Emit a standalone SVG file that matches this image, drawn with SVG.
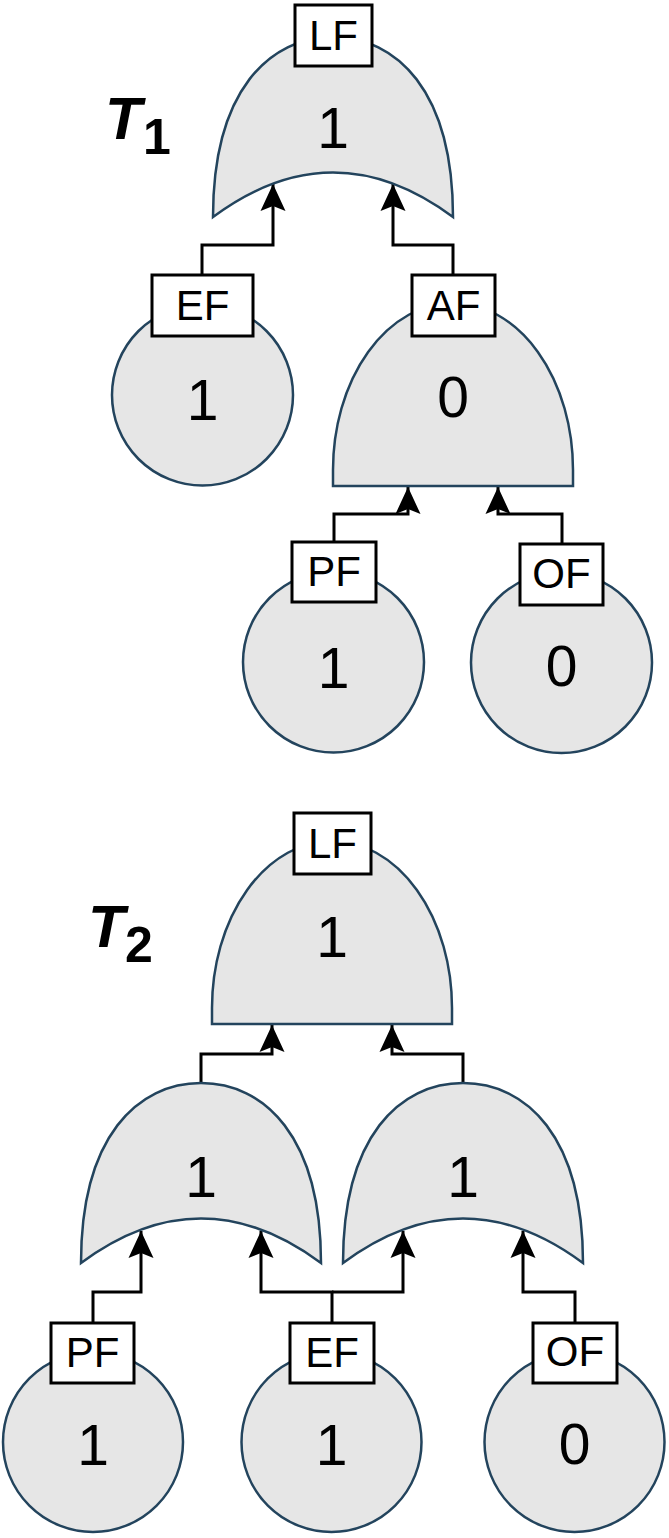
<svg xmlns="http://www.w3.org/2000/svg" width="669" height="1538" viewBox="0 0 669 1538">
<style>
.gate{fill:#e6e6e6;stroke:#23445d;stroke-width:2.5}
.lbl{fill:#fff;stroke:#000;stroke-width:3}
.lt{font-family:"Liberation Sans",Arial,sans-serif;font-size:42px;text-anchor:middle;fill:#000}
.num{font-family:"Liberation Sans",Arial,sans-serif;font-size:57px;text-anchor:middle;fill:#000}
.tt{font-family:"Liberation Sans",Arial,sans-serif;font-weight:bold;fill:#000}
.conn{fill:none;stroke:#000;stroke-width:3;marker-end:url(#arr)}
</style>
<defs>
<marker id="arr" viewBox="-29 -14 30 28" markerWidth="30" markerHeight="28" refX="0" refY="0" orient="auto" markerUnits="userSpaceOnUse">
<path d="M0,0 L-27,-12.5 L-22,0 L-27,12.5 Z" fill="#000"/>
</marker>
<path id="orShape" d="M213,217 C213,90 270,37 333,37 C396,37 453,90 453,217 Q333,128 213,217 Z"/>
<path id="andShape" d="M333,486 L333,470 A120,167 0 0 1 573,470 L573,486 Z"/>
</defs>
<rect width="669" height="1538" fill="#fff"/>

<g id="title-t1">
<text class="tt" x="105" y="139" font-size="60" font-style="italic">T</text>
<text class="tt" x="143" y="154" font-size="50">1</text>
</g>
<g id="title-t2">
<text class="tt" x="88" y="947" font-size="60" font-style="italic">T</text>
<text class="tt" x="125" y="962" font-size="50">2</text>
</g>

<g id="connectors">
<path class="conn" d="M202,275 V245 H273 V184"/>
<path class="conn" d="M453,275 V245 H393 V184"/>
<path class="conn" d="M334,542 V514 H408 V487"/>
<path class="conn" d="M562,544 V514 H498 V487"/>
<path class="conn" d="M201,1083 V1054 H272 V1025"/>
<path class="conn" d="M463,1083 V1054 H392 V1025"/>
<path class="conn" d="M93,1323 V1292 H141 V1231"/>
<path class="conn" d="M332,1323 V1292 H261 V1231"/>
<path class="conn" d="M332,1292 H403 V1231"/>
<path class="conn" d="M575,1323 V1292 H523 V1231"/>
</g>

<g id="t1-lf">
<use href="#orShape" class="gate"/>
<text class="num" x="333" y="148">1</text>
<rect class="lbl" x="295" y="5" width="77" height="61"/>
<text class="lt" x="333.5" y="50">LF</text>
</g>
<g id="t1-ef">
<circle class="gate" cx="202.5" cy="395" r="90.5"/>
<text class="num" x="202.5" y="420">1</text>
<rect class="lbl" x="152" y="275" width="101" height="61"/>
<text class="lt" x="202.5" y="320">EF</text>
</g>
<g id="t1-af">
<use href="#andShape" class="gate"/>
<text class="num" x="453" y="417">0</text>
<rect class="lbl" x="412" y="275" width="83" height="61"/>
<text class="lt" x="453.5" y="320">AF</text>
</g>
<g id="t1-pf">
<circle class="gate" cx="333.5" cy="662" r="90.5"/>
<text class="num" x="333.5" y="688">1</text>
<rect class="lbl" x="292" y="542" width="84" height="60"/>
<text class="lt" x="334" y="586">PF</text>
</g>
<g id="t1-of">
<circle class="gate" cx="561.5" cy="662.5" r="90.5"/>
<text class="num" x="561.5" y="686">0</text>
<rect class="lbl" x="520" y="544" width="83" height="61"/>
<text class="lt" x="561.5" y="588">OF</text>
</g>

<g id="t2-lf">
<use href="#andShape" class="gate" transform="translate(-121,538)"/>
<text class="num" x="332" y="957">1</text>
<rect class="lbl" x="294" y="813" width="77" height="61"/>
<text class="lt" x="332.5" y="858">LF</text>
</g>
<g id="t2-or1">
<use href="#orShape" class="gate" transform="translate(-132,1046)"/>
<text class="num" x="201" y="1197">1</text>
</g>
<g id="t2-or2">
<use href="#orShape" class="gate" transform="translate(130,1046)"/>
<text class="num" x="463" y="1197">1</text>
</g>
<g id="t2-pf">
<circle class="gate" cx="93" cy="1442" r="90"/>
<text class="num" x="93" y="1465">1</text>
<rect class="lbl" x="51" y="1323" width="83" height="60"/>
<text class="lt" x="92.5" y="1367">PF</text>
</g>
<g id="t2-ef">
<circle class="gate" cx="331.5" cy="1442" r="90"/>
<text class="num" x="331.5" y="1465">1</text>
<rect class="lbl" x="290" y="1323" width="84" height="60"/>
<text class="lt" x="332" y="1367">EF</text>
</g>
<g id="t2-of">
<circle class="gate" cx="574.5" cy="1442" r="90"/>
<text class="num" x="574.5" y="1464">0</text>
<rect class="lbl" x="533" y="1323" width="84" height="60"/>
<text class="lt" x="575" y="1366">OF</text>
</g>
</svg>
